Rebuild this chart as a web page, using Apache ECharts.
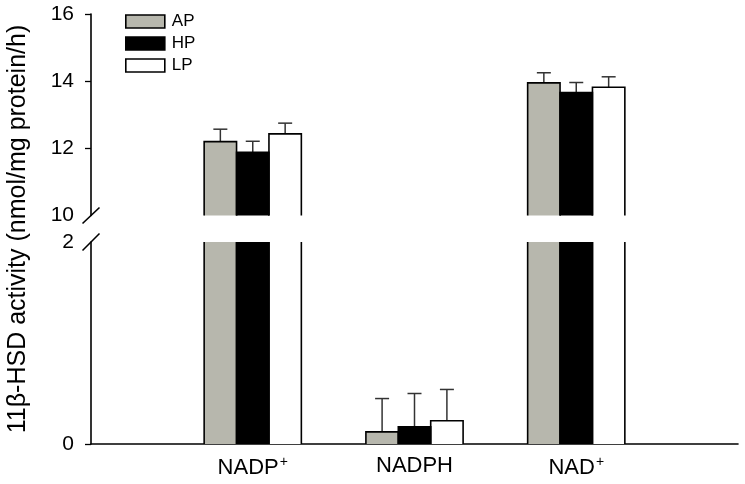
<!DOCTYPE html>
<html><head><meta charset="utf-8">
<script src="https://cdn.jsdelivr.net/npm/echarts@6/dist/echarts.min.js"></script>
<style>html,body{margin:0;padding:0;background:#fff}#c{width:745px;height:484px}</style>
</head><body><div id="c"></div>
<script>
// ---- data ----
const categories = ['NADP', 'NADPH', 'NAD'];
const catSup = ['+', '', '+'];
const groups = ['AP', 'HP', 'LP'];
const apMean = [12.20, 0.12, 13.95];
const apErr  = [0.37, 0.33, 0.30];
const hpMean = [11.88, 0.17, 13.66];
const hpErr  = [0.33, 0.33, 0.30];
const lpMean = [12.43, 0.23, 13.82];
const lpErr  = [0.32, 0.31, 0.31];
const upperTicks = [10, 12, 14, 16];
const lowerTicks = [0, 2];

// ---- styling ----
const colors = ['#b7b7ad', '#000000', '#ffffff'];
const BW = 32.4;
const FONT = 'Liberation Sans, Arial, sans-serif';
const means = [apMean, hpMean, lpMean];
const errs = [apErr, hpErr, lpErr];
const axisCats = [''].concat(categories.map((c, i) => c + '|' + catSup[i]), ['']);

const chart = echarts.init(document.getElementById('c'), null, {renderer: 'canvas'});

const grids = [
  {left: 91, right: 7, top: 14, height: 201.5},
  {left: 91, right: 7, top: 242, height: 202}
];
const ranges = [[upperTicks[0], upperTicks[upperTicks.length - 1]], [lowerTicks[0], lowerTicks[lowerTicks.length - 1]]];

function renderOutline(params, api) {
  const c = api.value(0), m = api.value(1), e = api.value(2), g = api.value(3);
  const cs = params.coordSys;
  const p = api.coord([c, m]);
  const x0 = p[0] + (g - 1.5) * BW, x1 = x0 + BW, xc = x0 + BW / 2;
  const yBase = cs.y + cs.height;
  const yTop = p[1];
  if (yTop > yBase + 0.5) return null;
  const children = [];
  const lineStyle = {stroke: '#000', lineWidth: 1.6, fill: null};
  if (yTop < cs.y) {
    children.push({type: 'line', shape: {x1: x0, y1: cs.y, x2: x0, y2: yBase}, style: lineStyle});
    children.push({type: 'line', shape: {x1: x1, y1: cs.y, x2: x1, y2: yBase}, style: lineStyle});
  } else {
    const yE = api.coord([c, m + e])[1];
    children.push({type: 'line', shape: {x1: xc, y1: yTop, x2: xc, y2: yE}, style: {stroke: '#333', lineWidth: 1.5}});
    children.push({type: 'line', shape: {x1: xc - 7, y1: yE, x2: xc + 7, y2: yE}, style: {stroke: '#333', lineWidth: 1.5}});
    children.push({type: 'polyline', shape: {points: [[x0, yBase], [x0, yTop], [x1, yTop], [x1, yBase]]}, style: lineStyle});
  }
  return {type: 'group', children: children};
}

const series = [];
[0, 1].forEach(gi => {
  const [lo, hi] = ranges[gi];
  groups.forEach((name, g) => {
    series.push({
      type: 'bar', name: name, xAxisIndex: gi, yAxisIndex: gi,
      barWidth: BW, barGap: '0%', clip: true,
      itemStyle: {color: colors[g], borderWidth: 0},
      data: [null].concat(means[g].map(v => (v >= lo ? v : null)), [null]),
      z: 2
    });
  });
  const od = [];
  groups.forEach((name, g) => {
    means[g].forEach((v, ci) => { if (v >= lo) od.push([ci + 1, v, errs[g][ci], g]); });
  });
  series.push({
    type: 'custom', xAxisIndex: gi, yAxisIndex: gi, renderItem: renderOutline,
    data: od, encode: {x: 0, y: 1}, z: 5, clip: false, silent: true
  });
});

const yAxisCommon = {
  type: 'value',
  splitLine: {show: false},
  axisLine: {show: true, lineStyle: {color: '#000', width: 1.6}},
  axisTick: {show: true, inside: false, length: 6, lineStyle: {color: '#000', width: 1.3}},
  axisLabel: {color: '#000', fontSize: 21, fontFamily: FONT, margin: 17}
};

chart.setOption({
  animation: false,
  backgroundColor: '#fff',
  grid: grids,
  legend: {
    orient: 'vertical', left: 125, top: 13, padding: 0, itemWidth: 39, itemHeight: 13, itemGap: 5,
    data: groups, icon: 'rect',
    itemStyle: {borderColor: '#000', borderWidth: 1.6},
    textStyle: {color: '#000', fontSize: 17, fontFamily: FONT, padding: [0, 0, 0, 2]}
  },
  xAxis: [
    {type: 'category', gridIndex: 0, data: axisCats, boundaryGap: false, show: false},
    {type: 'category', gridIndex: 1, data: axisCats, boundaryGap: false,
     axisLine: {show: true, lineStyle: {color: '#000', width: 1.6}},
     axisTick: {show: false},
     axisLabel: {
       margin: 11, interval: 0,
       formatter: v => { if (!v) return ''; const [a, s] = v.split('|'); return s ? a + '{sup|' + s + '}' : a; },
       color: '#000', fontSize: 22, fontFamily: FONT,
       rich: {sup: {fontSize: 14, fontFamily: FONT, color: '#000', verticalAlign: 'top', padding: [0, 0, 12, 1]}}
     }}
  ],
  yAxis: [
    Object.assign({}, yAxisCommon, {gridIndex: 0, min: ranges[0][0], max: ranges[0][1], interval: 2,
      axisTick: Object.assign({}, yAxisCommon.axisTick, {customValues: upperTicks.slice(1)})}),
    Object.assign({}, yAxisCommon, {gridIndex: 1, min: ranges[1][0], max: ranges[1][1], interval: 2,
      axisTick: Object.assign({}, yAxisCommon.axisTick, {customValues: lowerTicks.slice(0, 1)})})
  ],
  series: series
});

// axis-break slashes and y title
const ax = chart.convertToPixel({xAxisIndex: 0}, 0);
const yU = chart.convertToPixel({yAxisIndex: 0}, ranges[0][0]);
const yL = chart.convertToPixel({yAxisIndex: 1}, ranges[1][1]);
const yMid = (chart.convertToPixel({yAxisIndex: 0}, ranges[0][1]) + chart.convertToPixel({yAxisIndex: 1}, ranges[1][0])) / 2;
chart.setOption({
  graphic: [
    {type: 'line', shape: {x1: ax - 8.5, y1: yU + 8, x2: ax + 8.5, y2: yU - 8}, style: {stroke: '#000', lineWidth: 1.6}, z: 10},
    {type: 'line', shape: {x1: ax - 8.5, y1: yL + 8.5, x2: ax + 8.5, y2: yL - 8.5}, style: {stroke: '#000', lineWidth: 1.6}, z: 10},
    {type: 'text', x: 18, y: yMid, rotation: Math.PI / 2,
     style: {text: '11β-HSD activity (nmol/mg protein/h)', fill: '#000', font: '25px ' + FONT, textAlign: 'center', textVerticalAlign: 'middle'}, z: 10}
  ]
});
</script></body></html>
